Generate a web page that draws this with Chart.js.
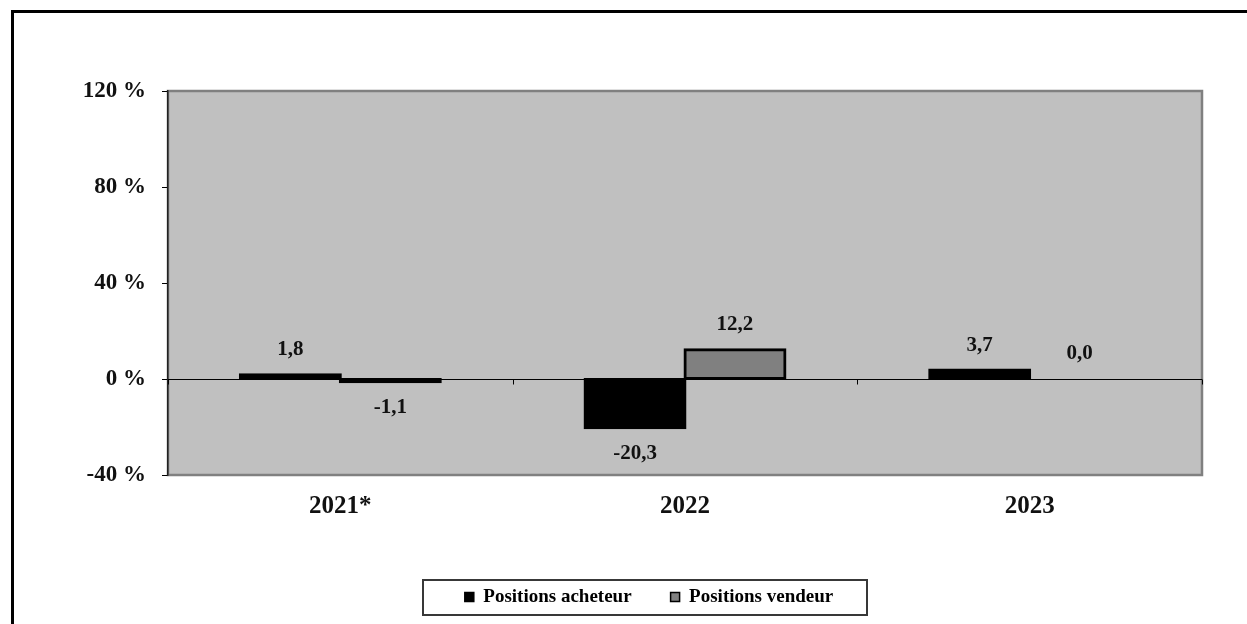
<!DOCTYPE html>
<html>
<head>
<meta charset="utf-8">
<script src="https://cdn.jsdelivr.net/npm/chart.js@4/dist/chart.umd.min.js"></script>
<style>
  html, body { margin: 0; padding: 0; background: #fff; }
  #wrap { width: 1247px; height: 624px; }
</style>
</head>
<body>
<div id="wrap"><canvas id="c" width="1247" height="624"></canvas></div>
<script>
// Years on the category axis
const years = ['2021*', '2022', '2023'];
// Series values, in percent
const acheteur = [1.8, -20.3, 3.7];
const vendeur = [-1.1, 12.2, 0.0];
// Series names
const seriesNames = ['Positions acheteur', 'Positions vendeur'];
// Series fills
const fills = ['#000000', '#808080'];
// Value axis
const yMin = -40, yMax = 120, yStep = 40;

const SERIF = '"Liberation Serif", "Times New Roman", serif';
const BORDER = 3;

const fmt = v => v.toFixed(1).replace('.', ',');

// A bar thinner than its outline shows only the outline; an empty bar shows nothing.
const barFill = base => ctx => {
  const v = ctx.raw;
  if (v === 0) return 'rgba(0,0,0,0)';
  const y = ctx.chart.scales.y;
  if (y && Math.abs(y.getPixelForValue(v) - y.getPixelForValue(0)) < BORDER) return '#000';
  return base;
};

const decor = {
  id: 'decor',
  afterLayout(chart) {
    // centre the legend under the plot like the original layout
    const lg = chart.legend;
    if (lg) { lg.left += 48; lg.right += 48; }
  },
  beforeDraw(chart) {
    const { ctx, chartArea: a } = chart;
    ctx.save();
    ctx.fillStyle = '#fff';
    ctx.fillRect(0, 0, chart.width, chart.height);
    // outer frame (top and left edges)
    ctx.strokeStyle = '#000';
    ctx.lineWidth = 3;
    ctx.beginPath();
    ctx.moveTo(12.5, 624);
    ctx.lineTo(12.5, 11.5);
    ctx.lineTo(1247, 11.5);
    ctx.stroke();
    // plot area
    ctx.fillStyle = '#c0c0c0';
    ctx.fillRect(a.left, a.top, a.right - a.left, a.bottom - a.top);
    ctx.strokeStyle = '#808080';
    ctx.lineWidth = 2.5;
    ctx.strokeRect(a.left, a.top, a.right - a.left, a.bottom - a.top);
    ctx.restore();
  },
  beforeDatasetsDraw(chart) {
    const { ctx, chartArea: a, scales: { y } } = chart;
    const y0 = Math.round(y.getPixelForValue(0)) + 0.5;
    ctx.save();
    ctx.strokeStyle = '#000';
    ctx.lineWidth = 1;
    ctx.beginPath();
    ctx.moveTo(a.left, y0);
    ctx.lineTo(a.right, y0);
    // category boundary ticks on the zero line
    for (let i = 0; i <= years.length; i++) {
      const px = Math.round(a.left + (a.right - a.left) * i / years.length) + 0.5;
      ctx.moveTo(px, y0);
      ctx.lineTo(px, y0 + 5);
    }
    ctx.stroke();
    ctx.restore();
  },
  afterDatasetsDraw(chart) {
    const { ctx, scales: { y } } = chart;
    ctx.save();
    ctx.font = 'bold 21px ' + SERIF;
    ctx.fillStyle = '#111';
    ctx.textAlign = 'center';
    ctx.textBaseline = 'middle';
    chart.data.datasets.forEach((ds, di) => {
      chart.getDatasetMeta(di).data.forEach((bar, i) => {
        const v = ds.data[i];
        const yy = v >= 0 ? y.getPixelForValue(v) - 25 : y.getPixelForValue(v) + 26;
        ctx.fillText(fmt(v), bar.x, yy);
      });
    });
    ctx.restore();
  },
  afterDraw(chart) {
    const boxes = chart.legend && chart.legend.legendHitBoxes;
    if (!boxes || !boxes.length) return;
    const first = boxes[0], last = boxes[boxes.length - 1];
    const cy = first.top + first.height / 2;
    const ctx = chart.ctx;
    ctx.save();
    ctx.strokeStyle = '#383838';
    ctx.lineWidth = 2;
    const l = Math.round(first.left - 42), r = Math.round(last.left + last.width + 34);
    ctx.strokeRect(l, Math.round(cy - 17), r - l, 35);
    ctx.restore();
  }
};

new Chart(document.getElementById('c'), {
  type: 'bar',
  data: {
    labels: years,
    datasets: [
      { label: seriesNames[0], data: acheteur, backgroundColor: barFill(fills[0]), borderColor: '#000', legendFill: fills[0] },
      { label: seriesNames[1], data: vendeur, backgroundColor: barFill(fills[1]), borderColor: '#000', legendFill: fills[1] }
    ]
  },
  options: {
    responsive: false,
    animation: false,
    layout: { padding: { left: 0, right: 45, top: 91, bottom: 7.5 } },
    datasets: {
      bar: {
        categoryPercentage: 0.58, barPercentage: 1.0,
        borderWidth: BORDER, borderSkipped: false, inflateAmount: 1.5
      }
    },
    plugins: {
      tooltip: { enabled: false },
      legend: {
        position: 'bottom',
        onClick: null,
        labels: {
          color: '#111',
          font: { family: SERIF, size: 19, weight: 'bold' },
          boxWidth: 9, boxHeight: 9, padding: 39,
          generateLabels(chart) {
            return chart.data.datasets.map((ds, i) => ({
              text: ds.label,
              fillStyle: ds.legendFill,
              strokeStyle: '#000',
              lineWidth: 1.5,
              datasetIndex: i
            }));
          }
        }
      }
    },
    scales: {
      x: {
        grid: { display: false },
        border: { display: false },
        ticks: { color: '#111', font: { family: SERIF, size: 25, weight: 'bold' }, padding: 9, maxRotation: 0 },
        afterFit(s) { s.height = 73.5; }
      },
      y: {
        min: yMin, max: yMax,
        grid: { drawOnChartArea: false, drawTicks: true, tickLength: 6, color: '#000' },
        border: { display: true, color: '#222', width: 1.5 },
        ticks: {
          stepSize: yStep,
          color: '#111',
          font: { family: SERIF, size: 23, weight: 'bold' },
          padding: 16,
          callback: v => v + ' %'
        },
        afterFit(s) { s.width = 168; }
      }
    }
  },
  plugins: [decor]
});
</script>
</body>
</html>
